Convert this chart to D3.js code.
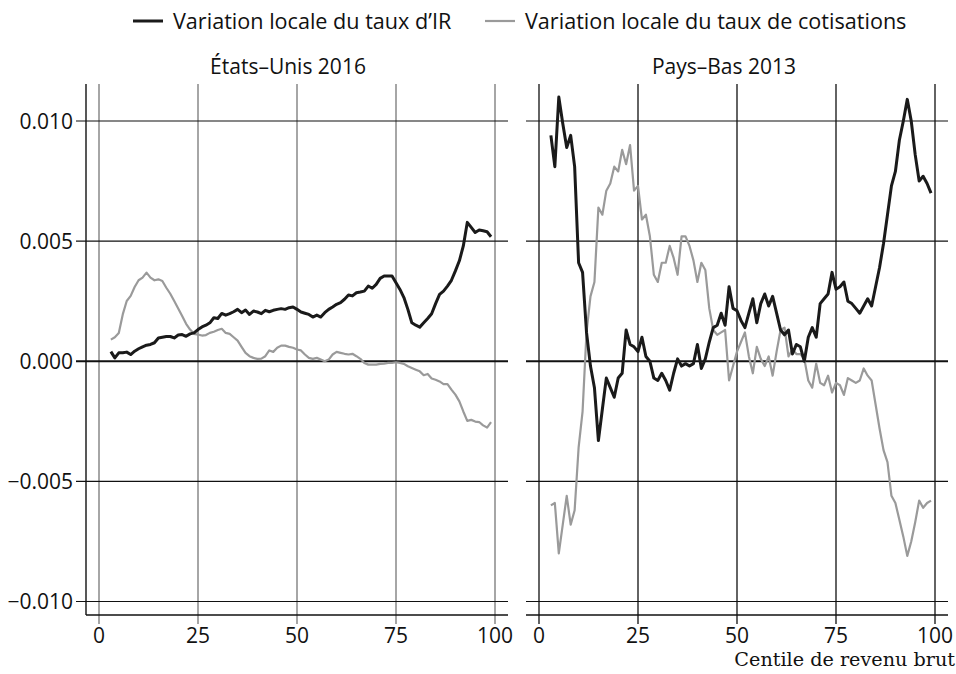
<!DOCTYPE html>
<html>
<head>
<meta charset="utf-8">
<script src="https://cdn.jsdelivr.net/npm/d3@7"></script>
<style>
  body { margin: 0; background: #fff; }
  text { font-family: "Open Sans", "Noto Sans", sans-serif; fill: #111; }
</style>
</head>
<body>
<div class="chart"></div>
<script>
let centiles = d3.range(3, 100);
let xTicks = [0, 25, 50, 75, 100];
let yTicks = [0.01, 0.005, 0, -0.005, -0.01];
let yTickLabels = ['0.010', '0.005', '0.000', '\u22120.005', '\u22120.010'];

// Etats-Unis 2016
let usIR = [
  0.0004, 0.00014, 0.00035, 0.00035, 0.00038, 0.00028, 0.00042, 0.00052, 0.0006, 0.00067,
  0.0007, 0.00077, 0.00097, 0.001, 0.00103, 0.00103, 0.00097, 0.00109, 0.00111, 0.00104,
  0.00114, 0.00118, 0.00132, 0.00143, 0.0015, 0.0016, 0.00181, 0.00178, 0.00199, 0.00192,
  0.00198, 0.00206, 0.00216, 0.00202, 0.00213, 0.00195, 0.00209, 0.00205, 0.00198, 0.00212,
  0.00206, 0.00212, 0.00216, 0.00219, 0.00216, 0.00223, 0.00226, 0.00216, 0.00205, 0.002,
  0.00195, 0.00184, 0.00192, 0.00184, 0.00202, 0.00216, 0.00226, 0.00237, 0.00244, 0.00258,
  0.00276, 0.00272, 0.00285, 0.00288, 0.00292, 0.00313, 0.00304, 0.0032, 0.00345, 0.00355,
  0.00355, 0.00355, 0.00327, 0.00299, 0.00265, 0.00216, 0.0016, 0.0015, 0.00142, 0.0016,
  0.00178, 0.00198, 0.0024, 0.00278, 0.00292, 0.00313, 0.00337, 0.00376, 0.00418, 0.0048,
  0.00578, 0.00557, 0.00536, 0.00546, 0.00543, 0.00539, 0.00518
];
let usCot = [
  0.0009, 0.001, 0.00118, 0.00195, 0.00251, 0.00272, 0.00309, 0.00337, 0.00348, 0.00369,
  0.00348, 0.00337, 0.00341, 0.00334, 0.00306, 0.00281, 0.00251, 0.0022, 0.00188, 0.00156,
  0.00132, 0.00114, 0.00111, 0.00107, 0.00109, 0.00118, 0.00123, 0.0013, 0.00135, 0.00118,
  0.00114, 0.001, 0.00086, 0.0006, 0.00035, 0.00021, 0.00014, 0.0001, 0.00011, 0.00021,
  0.00045, 0.00039, 0.00056, 0.00065, 0.00065, 0.0006, 0.00056, 0.00049, 0.00045, 0.00028,
  0.00014, 0.0001, 0.00014, 0.00007, 0.0, 0.00007, 0.00028, 0.00039, 0.00035, 0.00031,
  0.00028, 0.00031, 0.00021, 0.0001, -0.00007, -0.00014, -0.00014, -0.00014, -0.00011, -0.0001,
  -0.00007, -0.00007, -0.00004, -0.00007, -0.00011, -0.00021, -0.00028, -0.00035, -0.00042, -0.00058,
  -0.00053, -0.00072, -0.00077, -0.00084, -0.00095, -0.00095, -0.00118, -0.00139, -0.00167, -0.00209,
  -0.00248, -0.00244, -0.00251, -0.00253, -0.00267, -0.00276, -0.00253
];

// Pays-Bas 2013
let nlIR = [
  0.0094, 0.0081, 0.011, 0.0099, 0.0089, 0.0094, 0.0081, 0.0041, 0.0037, 0.0012,
  -0.0002, -0.0011, -0.0033, -0.002, -0.0007, -0.0011, -0.0015, -0.0007, -0.0005, 0.0013,
  0.0007, 0.0006, 0.0004, 0.001, 0.0002, 0.0, -0.0007, -0.0008, -0.0005, -0.0008,
  -0.0012, -0.0005, 0.0001, -0.0002, -0.0001, -0.0002, -0.0001, 0.0007, -0.0003, 0.0001,
  0.0008, 0.0014, 0.0015, 0.002, 0.0015, 0.0031, 0.0022, 0.0021, 0.0017, 0.0014,
  0.002, 0.0026, 0.0016, 0.0024, 0.0028, 0.0023, 0.0027, 0.002, 0.0013, 0.0011,
  0.0013, 0.0003, 0.0007, 0.0006, 0.0, 0.001, 0.0014, 0.001, 0.0024, 0.0026,
  0.0028, 0.0037, 0.003, 0.0031, 0.0033, 0.0025, 0.0024, 0.0022, 0.002, 0.0023,
  0.0026, 0.0023, 0.0031, 0.0039, 0.0049, 0.0061, 0.0073, 0.0079, 0.0092, 0.01,
  0.0109, 0.01, 0.0086, 0.0075, 0.0077, 0.0074, 0.007
];
let nlCot = [
  -0.006, -0.0059, -0.008, -0.0068, -0.0056, -0.0068, -0.0062, -0.0036, -0.0021, 0.0012,
  0.0027, 0.0033, 0.0064, 0.0061, 0.0071, 0.0074, 0.0081, 0.0079, 0.0088, 0.0082,
  0.009, 0.0071, 0.0073, 0.0059, 0.0061, 0.0052, 0.0036, 0.0033, 0.0041, 0.0041,
  0.0048, 0.0043, 0.0036, 0.0052, 0.0052, 0.0048, 0.0042, 0.0033, 0.0041, 0.0038,
  0.0022, 0.0013, 0.0011, 0.0012, 0.0013, -0.0008, -0.0002, 0.0004, 0.0008, 0.0012,
  0.0002, -0.0005, 0.0006, 0.0001, -0.0002, 0.0002, -0.0006, 0.0004, 0.0013, 0.0014,
  0.0002, 0.0005, 0.0003, 0.0003, 0.0001, -0.0008, -0.0011, -0.0001, -0.0009, -0.001,
  -0.0006, -0.0013, -0.0009, -0.001, -0.0014, -0.0007, -0.0008, -0.0009, -0.0008, -0.0003,
  -0.0006, -0.0008, -0.0018, -0.0028, -0.0037, -0.0042, -0.0056, -0.0059, -0.0066, -0.0073,
  -0.0081, -0.0075, -0.0067, -0.0058, -0.0061, -0.0059, -0.0058
];

let svg = d3.select('.chart')
  .append('svg')
  .attr('width', 956)
  .attr('height', 674);

let plotTop = 84, plotBottom = 615;

let y = d3.scaleLinear()
  .domain([-0.01, 0.01])
  .range([601.5, 121]);

function panel(opts) {
  let x = d3.scaleLinear().domain([0, 100]).range(opts.range);
  let g = svg.append('g');

  // vertical grid lines
  g.selectAll('.vgrid')
    .data(xTicks)
    .enter().append('line')
    .attr('x1', d => x(d)).attr('x2', d => x(d))
    .attr('y1', plotTop).attr('y2', plotBottom + 9)
    .attr('stroke', opts.vgridColor)
    .attr('stroke-width', 1.4);

  // horizontal grid lines
  g.selectAll('.hgrid')
    .data(yTicks)
    .enter().append('line')
    .attr('x1', opts.left - (opts.yLabels ? 10 : 0)).attr('x2', opts.right)
    .attr('y1', d => y(d)).attr('y2', d => y(d))
    .attr('stroke', '#111')
    .attr('stroke-width', d => d === 0 ? 2.2 : 1.2);

  // axis lines
  g.append('line')
    .attr('x1', opts.left).attr('x2', opts.right)
    .attr('y1', plotBottom).attr('y2', plotBottom)
    .attr('stroke', '#111').attr('stroke-width', 1.4);
  if (opts.yLabels) {
    g.append('line')
      .attr('x1', opts.left).attr('x2', opts.left)
      .attr('y1', plotTop).attr('y2', plotBottom)
      .attr('stroke', '#111').attr('stroke-width', 1.4);
    g.selectAll('.ylab')
      .data(yTicks)
      .enter().append('text')
      .attr('x', opts.left - 13)
      .attr('y', d => y(d))
      .attr('dy', '0.36em')
      .attr('text-anchor', 'end')
      .attr('font-size', 21)
      .text((d, i) => yTickLabels[i]);
  }

  g.selectAll('.xlab')
    .data(xTicks)
    .enter().append('text')
    .attr('x', d => x(d))
    .attr('y', 643)
    .attr('text-anchor', 'middle')
    .attr('font-size', 21)
    .text(d => d);

  g.append('text')
    .attr('x', opts.titleX)
    .attr('y', 74)
    .attr('text-anchor', 'middle')
    .attr('font-size', 21)
    .text(opts.title);

  let line = d3.line()
    .x((d, i) => x(centiles[i]))
    .y(d => y(d));

  g.append('path')
    .attr('d', line(opts.cot))
    .attr('fill', 'none')
    .attr('stroke', '#9a9a9a')
    .attr('stroke-width', 2.2)
    .attr('stroke-linejoin', 'round');

  g.append('path')
    .attr('d', line(opts.ir))
    .attr('fill', 'none')
    .attr('stroke', '#1a1a1a')
    .attr('stroke-width', 3)
    .attr('stroke-linejoin', 'round');
}

panel({
  range: [99, 495], left: 86, right: 508, yLabels: true,
  vgridColor: '#808080', title: '\u00c9tats\u2013Unis 2016', titleX: 288,
  ir: usIR, cot: usCot
});

panel({
  range: [539, 935], left: 526, right: 948, yLabels: false,
  vgridColor: '#222', title: 'Pays\u2013Bas 2013', titleX: 724,
  ir: nlIR, cot: nlCot
});

// legend
let legend = [
  { label: 'Variation locale du taux d\u2019IR', color: '#1a1a1a', w: 3, x: 133 },
  { label: 'Variation locale du taux de cotisations', color: '#9a9a9a', w: 2.2, x: 485 }
];
let lg = svg.selectAll('.legend')
  .data(legend)
  .enter().append('g')
  .attr('transform', d => `translate(${d.x}, 21)`);
lg.append('line')
  .attr('x1', 0).attr('x2', 30)
  .attr('stroke', d => d.color)
  .attr('stroke-width', d => d.w);
lg.append('text')
  .attr('x', 40)
  .attr('dy', '0.36em')
  .attr('font-size', 21.6)
  .text(d => d.label);

svg.append('text')
  .attr('x', 955)
  .attr('y', 666)
  .attr('text-anchor', 'end')
  .attr('font-size', 19.2)
  .style('font-family', '"DejaVu Serif", serif')
  .text('Centile de revenu brut');
</script>
</body>
</html>
